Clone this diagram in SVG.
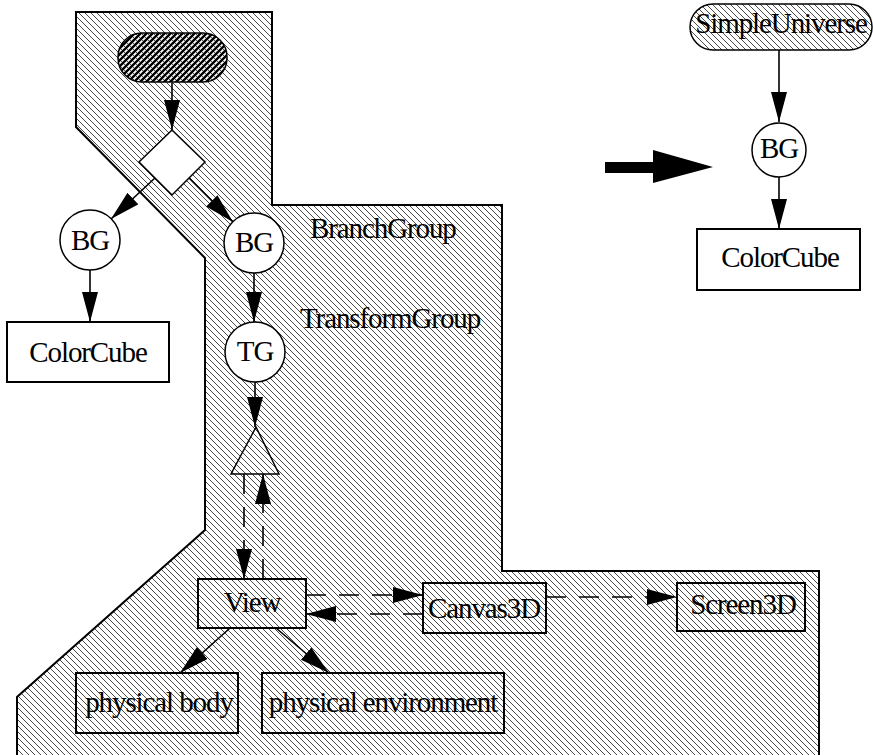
<svg xmlns="http://www.w3.org/2000/svg" width="873" height="755" viewBox="0 0 873 755">
<defs>
<pattern id="hatch" width="6" height="6" patternUnits="userSpaceOnUse"><path d="M-1,-1 L7,7 M-1,5 L1,7 M5,-1 L7,1" stroke="#4a4a4a" stroke-width="1"/></pattern>
<pattern id="dark" width="6" height="6" patternUnits="userSpaceOnUse"><path d="M-1,7 L7,-1 M-1,1 L1,-1 M5,7 L7,5" stroke="#000" stroke-width="2.4"/></pattern>
<marker id="ah" markerUnits="userSpaceOnUse" markerWidth="32" markerHeight="18" refX="30" refY="8" orient="auto"><path d="M0,0 L30,8 L0,16 Z" fill="#000"/></marker>
<style>
.reg{fill:url(#hatch);stroke:#000;stroke-width:2}
.box{fill:none;stroke:#000;stroke-width:2}
.wbox{fill:#fff;stroke:#000;stroke-width:2}
.circ{fill:#fff;stroke:#000;stroke-width:1.5}
.e{stroke:#000;stroke-width:1.6;fill:none;marker-end:url(#ah)}
.d{stroke-dasharray:20 13}
text{font-family:"Liberation Serif","Times New Roman",serif;font-size:29px;letter-spacing:-1.1px;fill:#000}
.m{text-anchor:middle}
</style>
</defs>
<polygon class="reg" points="76,12 272,12 272,205 502,205 502,571 819,571 819,757 17,757 17,697 205,530 205,258 76,127"/>
<text x="310" y="238">BranchGroup</text>
<text x="300" y="328">TransformGroup</text>
<g id="connectors">
<line class="e" x1="172" y1="83" x2="172" y2="130"/>
<line class="e" x1="155" y1="178" x2="111" y2="219"/>
<line class="e" x1="189" y1="178" x2="233" y2="222"/>
<line class="e" x1="90" y1="270" x2="90" y2="322"/>
<line class="e" x1="254" y1="273" x2="254" y2="322"/>
<line class="e" x1="255" y1="382" x2="255" y2="427"/>
<line class="e d" x1="244" y1="474" x2="244" y2="579"/>
<line class="e d" x1="263" y1="579" x2="263" y2="474"/>
<line class="e d" x1="306" y1="595" x2="423" y2="595"/>
<line class="e d" x1="423" y1="614" x2="306" y2="614"/>
<line class="e d" x1="546" y1="597" x2="677" y2="597"/>
<line class="e" x1="230" y1="628" x2="180" y2="673"/>
<line class="e" x1="276" y1="628" x2="329" y2="673"/>
<line class="e" x1="779" y1="50" x2="779" y2="122"/>
<line class="e" x1="779" y1="177" x2="779" y2="229"/>
<g id="bigarrow"><rect x="605" y="162" width="49" height="11" fill="#000"/><polygon points="653,150 713,167 653,183" fill="#000"/></g>
</g>
<g id="root"><rect x="118" y="33" width="109" height="49" rx="24" fill="url(#dark)" stroke="#000" stroke-width="1.5"/></g>
<g id="diamond"><polygon points="172,130 205,162 172,195 139,162" fill="#fff" stroke="#000" stroke-width="1.5"/></g>
<g id="bg1"><circle class="circ" cx="90" cy="240" r="30"/><text class="m" x="90" y="250">BG</text></g>
<g id="cc1"><rect class="wbox" x="7" y="322" width="162" height="60"/><text class="m" x="88" y="362">ColorCube</text></g>
<g id="bg2"><circle class="circ" cx="254" cy="243" r="30"/><text class="m" x="254" y="252">BG</text></g>
<g id="tg"><circle class="circ" cx="255" cy="352" r="30"/><text class="m" x="255" y="361">TG</text></g>
<g id="vp"><polygon points="256,427 279,474 231,474" fill="none" stroke="#000" stroke-width="1.5"/></g>
<g id="view"><rect class="box" x="198" y="579" width="108" height="49"/><text class="m" x="252" y="612">View</text></g>
<g id="canvas"><rect class="box" x="423" y="583" width="123" height="50"/><text class="m" x="484" y="618">Canvas3D</text></g>
<g id="screen"><rect class="box" x="677" y="583" width="128" height="48"/><text class="m" x="743" y="614">Screen3D</text></g>
<g id="pbody"><rect class="box" x="76" y="673" width="162" height="60"/><text class="m" x="159" y="712">physical body</text></g>
<g id="penv"><rect class="box" x="262" y="673" width="242" height="60"/><text class="m" x="383" y="712">physical environment</text></g>
<g id="su"><rect x="690" y="4" width="182" height="46" rx="23" fill="url(#hatch)" stroke="#000" stroke-width="1.5"/><text class="m" x="781" y="33">SimpleUniverse</text></g>
<g id="bg3"><circle class="circ" cx="779" cy="150" r="27"/><text class="m" x="779" y="158">BG</text></g>
<g id="cc2"><rect class="wbox" x="697" y="229" width="163" height="61"/><text class="m" x="780" y="267">ColorCube</text></g>
</svg>
